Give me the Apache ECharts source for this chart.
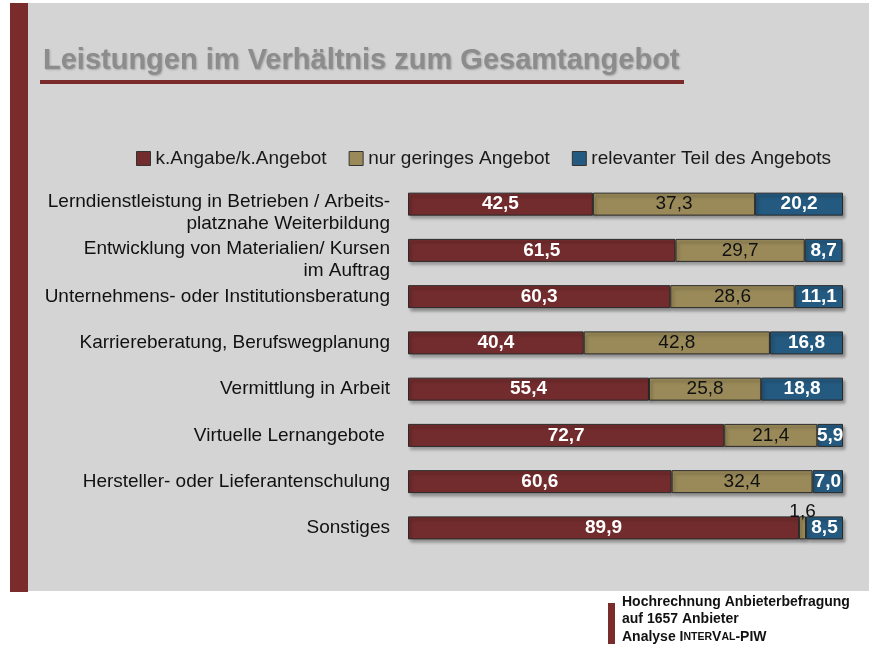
<!DOCTYPE html>
<html>
<head>
<meta charset="utf-8">
<script src="https://cdn.jsdelivr.net/npm/echarts@6/dist/echarts.min.js"></script>
<style>
html,body{margin:0;padding:0;background:#fff;}
#chart{width:869px;height:650px;}
</style>
</head>
<body>
<div id="chart"></div>
<script>
const categories = [
  "Lerndienstleistung in Betrieben / Arbeits-\nplatznahe Weiterbildung",
  "Entwicklung von Materialien/ Kursen\nim Auftrag",
  "Unternehmens- oder Institutionsberatung",
  "Karriereberatung, Berufswegplanung",
  "Vermittlung in Arbeit",
  "Virtuelle Lernangebote ",
  "Hersteller- oder Lieferantenschulung",
  "Sonstiges"
];
const seriesNames = ["k.Angabe/k.Angebot", "nur geringes Angebot", "relevanter Teil des Angebots"];
const kAngabe = [42.5, 61.5, 60.3, 40.4, 55.4, 72.7, 60.6, 89.9];
const gering = [37.3, 29.7, 28.6, 42.8, 25.8, 21.4, 32.4, 1.6];
const relevant = [20.2, 8.7, 11.1, 16.8, 18.8, 5.9, 7.0, 8.5];

const title = "Leistungen im Verhältnis zum Gesamtangebot";
const footerLines = ["Hochrechnung Anbieterbefragung", "auf 1657 Anbieter"];

const RED = '#732c2d', OLIVE = '#9a8a59', BLUE = '#245a7f', BG = '#d4d4d4';
const FONT = 'Liberation Sans, Arial, sans-serif';
const fmt = p => p.value.toFixed(1).replace('.', ',');

const chart = echarts.init(document.getElementById('chart'));

function barSeries(name, data, color, labelColor, bold) {
  return {
    name: name,
    type: 'bar',
    stack: 'total',
    barWidth: 23,
    data: data.map((v, i) => {
      if (name === seriesNames[1] && v < 3) {
        return { value: v, label: { position: 'top', distance: -5, color: '#111', fontWeight: 'normal' } };
      }
      return v;
    }),
    itemStyle: {
      color: color,
      borderColor: '#2a2a2a',
      borderWidth: 1,
      shadowColor: 'rgba(0,0,0,0.35)',
      shadowBlur: 3,
      shadowOffsetX: 2,
      shadowOffsetY: 3
    },
    label: {
      show: true,
      position: 'inside',
      formatter: fmt,
      color: labelColor,
      fontFamily: FONT,
      fontSize: 19,
      fontWeight: bold ? 'bold' : 'normal'
    },
    emphasis: { disabled: true }
  };
}

chart.setOption({
  animation: false,
  backgroundColor: 'transparent',
  textStyle: { fontFamily: FONT },
  graphic: [
    { type: 'rect', z: -20, shape: { x: 10, y: 3, width: 859, height: 588 }, style: { fill: BG } },
    { type: 'rect', z: -19, shape: { x: 10, y: 3, width: 18, height: 589 }, style: { fill: '#7a2b2c' } },
    { type: 'rect', z: -19, shape: { x: 40, y: 80, width: 644, height: 4 }, style: { fill: '#7b2a2b' } },
    {
      type: 'text', z: -18, x: 43, y: 75,
      style: {
        text: title, fill: '#8c8c8c', fontSize: 29, fontWeight: 'bold',
        fontFamily: FONT, textVerticalAlign: 'bottom',
        textShadowColor: 'rgba(0,0,0,0.22)', textShadowBlur: 2, textShadowOffsetX: 1, textShadowOffsetY: 1
      }
    },
    { type: 'rect', z: -19, shape: { x: 608, y: 603, width: 7, height: 41 }, style: { fill: '#7a2b2c' } },
    {
      type: 'text', z: -18, x: 622, y: 593,
      style: {
        text: footerLines.map(l => '{b|' + l + '}').join('\n') + '\n{b|Analyse I}{s|NTER}{b|V}{s|AL}{b|-PIW}',
        fill: '#111',
        rich: {
          b: { fontSize: 14, fontWeight: 'bold', lineHeight: 17.5, fill: '#111', fontFamily: FONT },
          s: { fontSize: 10.5, fontWeight: 'bold', lineHeight: 17.5, fill: '#111', fontFamily: FONT }
        }
      }
    }
  ],
  legend: {
    left: 131, top: 144,
    itemWidth: 14, itemHeight: 14, itemGap: 22,
    icon: 'rect',
    data: seriesNames,
    textStyle: { fontSize: 19, color: '#1a1a1a', fontFamily: FONT },
    itemStyle: { borderColor: '#333', borderWidth: 1, shadowBlur: 0, shadowOffsetX: 0, shadowOffsetY: 0 }
  },
  grid: { left: 408, right: 26, top: 181, height: 370 },
  xAxis: {
    type: 'value', min: 0, max: 100,
    show: false
  },
  yAxis: {
    type: 'category', inverse: true, data: categories,
    axisLine: { show: false }, axisTick: { show: false }, splitLine: { show: false },
    axisLabel: {
      interval: 0,
      margin: 18,
      fontSize: 19,
      color: '#111',
      align: 'right',
      fontFamily: FONT,
      formatter: v => {
        if (v.indexOf('\n') >= 0) {
          return '{sp| }\n' + v.split('\n').map(l => '{t|' + l + '}').join('\n');
        }
        return v;
      },
      rich: {
        sp: { fontSize: 1, lineHeight: 18, width: 380 },
        t: { fontSize: 19, lineHeight: 22, width: 380, color: '#111', align: 'right', fontFamily: FONT }
      }
    }
  },
  series: [
    barSeries(seriesNames[0], kAngabe, RED, '#fff', true),
    barSeries(seriesNames[1], gering, OLIVE, '#111', false),
    barSeries(seriesNames[2], relevant, BLUE, '#fff', true)
  ]
});
</script>
</body>
</html>
